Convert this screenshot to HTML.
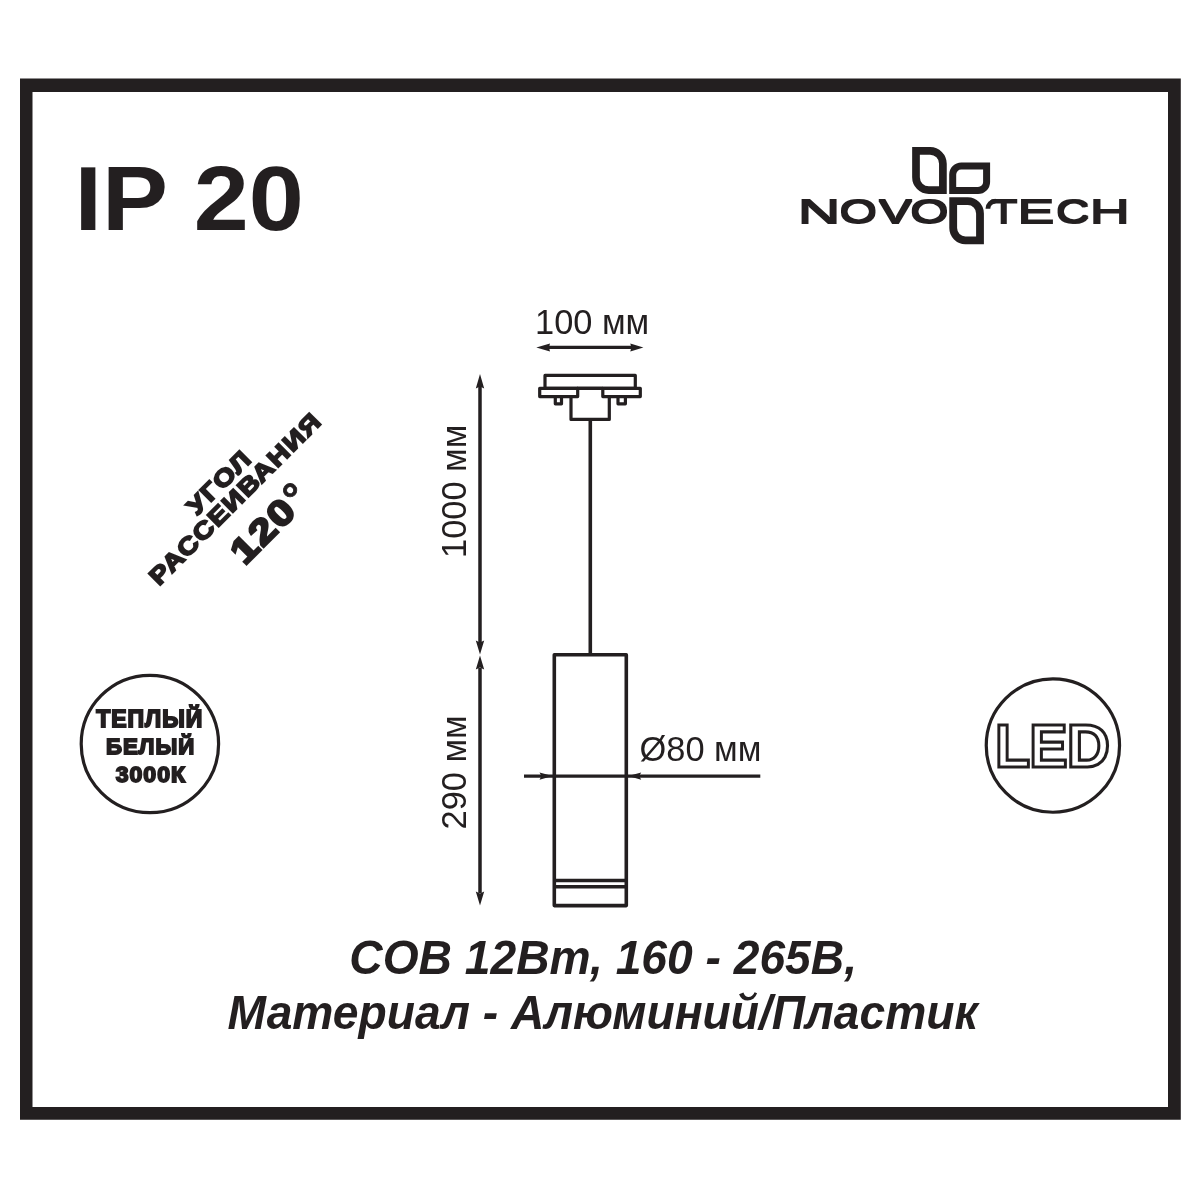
<!DOCTYPE html>
<html lang="ru">
<head>
<meta charset="utf-8">
<title>NOVOTECH IP 20</title>
<style>
html,body{margin:0;padding:0;background:#fff;}
body{width:1200px;height:1200px;overflow:hidden;}
svg{display:block;will-change:transform;}
text{font-family:"Liberation Sans",sans-serif;fill:#231f20;}
.b{font-weight:bold;}
.bi{font-weight:bold;font-style:italic;}
.ln{stroke:#231f20;fill:none;}
.fl{fill:#231f20;stroke:none;}
</style>
</head>
<body>
<svg width="1200" height="1200" viewBox="0 0 1200 1200">
<!-- frame -->
<path class="fl" fill-rule="evenodd" d="M20 78.5H1180.8V1119.8H20Z M32.5 92V1107H1168V92Z"/>

<!-- IP 20 -->
<text id="ip" class="b" font-size="91" transform="translate(74.5 229.5) scale(1.088 1)">IP 20</text>

<!-- dimension 100 mm -->
<text id="t100" x="535" y="333.5" font-size="34.4">100 мм</text>
<g id="a100">
<line class="ln" x1="545" y1="347.45" x2="635" y2="347.45" stroke-width="3.3"/>
<path class="fl" d="M536.3 347.45L550 343.4L549 347.45L550 351.5Z"/>
<path class="fl" d="M643.4 347.45L630.3 343.4L631.3 347.45L630.3 351.5Z"/>
</g>

<!-- mount -->
<g id="mount" class="ln" stroke-width="3.2" stroke-linejoin="round">
<rect x="545" y="375.4" width="90.3" height="12.9"/>
<rect x="539.7" y="388.3" width="38" height="8.3"/>
<rect x="602.8" y="388.3" width="37.5" height="8.3"/>
<line x1="577" y1="388.3" x2="603" y2="388.3"/>
<path d="M571 396.6V419.4H609.3V396.6"/>
<path d="M555.3 398V403.8H561.5V398"/>
<path d="M618 398V403.8H625.4V398"/>
</g>
<!-- wire -->
<line class="ln" x1="590.3" y1="420" x2="590.3" y2="654" stroke-width="3.6"/>
<!-- lamp body -->
<g id="lamp" class="ln" stroke-width="3.6" stroke-linejoin="round">
<rect x="554.3" y="654.8" width="72" height="250.8"/>
<line x1="554.3" y1="880.5" x2="626.3" y2="880.5" stroke-width="3.4"/>
<line x1="554.3" y1="886.8" x2="626.3" y2="886.8" stroke-width="3.4"/>
</g>

<!-- vertical dims -->
<g id="vd">
<line class="ln" x1="480" y1="386" x2="480" y2="643" stroke-width="3.5"/>
<path class="fl" d="M480 374L484.2 388.5L480 386.5L475.8 388.5Z"/>
<path class="fl" d="M480 654.5L484.2 640.5L480 642.5L475.8 640.5Z"/>
<line class="ln" x1="480" y1="668" x2="480" y2="893" stroke-width="3.5"/>
<path class="fl" d="M480 655.5L484.2 669.5L480 667.5L475.8 669.5Z"/>
<path class="fl" d="M480 905.5L484.2 891.5L480 893.5L475.8 891.5Z"/>
</g>
<text id="t1000" font-size="34.4" transform="translate(466.2 558) rotate(-90)">1000 мм</text>
<text id="t290" font-size="34.4" transform="translate(466.2 829.5) rotate(-90)">290 мм</text>

<!-- diameter dim -->
<g id="dd">
<line class="ln" x1="524" y1="776.1" x2="760.3" y2="776.1" stroke-width="3.4"/>
<path class="fl" d="M552.5 776.1L539.5 772.4L541.5 776.1L539.5 779.8Z"/>
<path class="fl" d="M628.2 776.1L641.2 772.4L639.2 776.1L641.2 779.8Z"/>
</g>
<text id="t80" x="639.5" y="761" font-size="34.4">Ø80 мм</text>

<!-- bottom text -->
<text id="l1" class="bi" x="349.3" y="973.5" font-size="47.5" textLength="507.7" lengthAdjust="spacingAndGlyphs">СОВ 12Вт, 160 - 265В,</text>
<text id="l2" class="bi" x="227.6" y="1029" font-size="47.5" textLength="750.3" lengthAdjust="spacingAndGlyphs">Материал - Алюминий/Пластик</text>

<!-- warm white badge -->
<circle class="ln" cx="149.9" cy="744" r="68.7" stroke-width="3.2"/>
<g id="ww" class="b" text-anchor="middle" font-size="23" stroke="#231f20" stroke-width="1.8" stroke-linejoin="miter" letter-spacing="1">
<text transform="translate(149.75 726.5) scale(1.0 1)">ТЕПЛЫЙ</text>
<text transform="translate(150.6 753.7) scale(0.97 1)">БЕЛЫЙ</text>
<text transform="translate(150.9 782.2) scale(1.005 1)">3000К</text>
</g>

<!-- LED badge -->
<circle class="ln" cx="1052.9" cy="745.6" r="66.65" stroke-width="3.2"/>
<text id="led" class="b" y="766.9" font-size="61.6" style="fill:#fff;stroke:#231f20;stroke-width:3.2;stroke-linejoin:miter"><tspan x="995.00" textLength="35.17" lengthAdjust="spacingAndGlyphs">L</tspan><tspan x="1029.25" textLength="38.40" lengthAdjust="spacingAndGlyphs">E</tspan><tspan x="1066.84" textLength="43.33" lengthAdjust="spacingAndGlyphs">D</tspan></text>

<!-- angle text -->
<g id="ang" class="b" transform="translate(240.7 504.8) rotate(-45)" text-anchor="middle" stroke="#231f20" stroke-linejoin="miter">
<text transform="translate(0.6 -22.9) scale(1.178 1)" font-size="24" stroke-width="1.8" letter-spacing="1.2">УГОЛ</text>
<text transform="translate(0.6 0) scale(1.178 1)" font-size="24" stroke-width="1.8" letter-spacing="1.2">РАССЕИВАНИЯ</text>
<text transform="translate(-40.5 46.2) scale(1.2 1)" text-anchor="start" font-size="35.5" stroke-width="2.4" letter-spacing="1.5">120</text><text x="45.2" y="48" font-size="43" stroke-width="0.8">°</text>
</g>

<!-- logo -->
<defs>
<filter id="fat" x="-5%" y="-30%" width="110%" height="160%" color-interpolation-filters="sRGB">
<feMorphology operator="dilate" radius="0.5 1.25"/>
</filter>
</defs>
<g id="logo">
<g id="mark" class="ln" stroke-linejoin="miter">
<path d="M916 150.9H930.1A12.8 12.8 0 0 1 942.9 163.7V190.1H928.8A12.8 12.8 0 0 1 916 177.3Z" stroke-width="7.7"/>
<path d="M961.3 166H986.6V182.0A8.6 8.6 0 0 1 978.0 190.6H952.7V174.6A8.6 8.6 0 0 1 961.3 166Z" stroke-width="7"/>
<path d="M953.2 201.2H967.8A12.2 12.2 0 0 1 980 213.4V240.3H965.4A12.2 12.2 0 0 1 953.2 228.1Z" stroke-width="7.8"/>
</g>
<g filter="url(#fat)">
<text id="novo" y="222.5" font-size="33"><tspan x="797.65" textLength="42.66" lengthAdjust="spacingAndGlyphs">N</tspan><tspan x="839.74" textLength="37.03" lengthAdjust="spacingAndGlyphs">O</tspan><tspan x="879.29" textLength="32.43" lengthAdjust="spacingAndGlyphs">V</tspan><tspan x="910.50" textLength="37.83" lengthAdjust="spacingAndGlyphs">O</tspan></text>
<text id="tech" y="222.5" font-size="33"><tspan x="990.26" textLength="27.01" lengthAdjust="spacingAndGlyphs">T</tspan><tspan x="1017.57" textLength="36.80" lengthAdjust="spacingAndGlyphs">E</tspan><tspan x="1056.17" textLength="33.07" lengthAdjust="spacingAndGlyphs">C</tspan><tspan x="1089.65" textLength="40.08" lengthAdjust="spacingAndGlyphs">H</tspan></text>
</g>
<path d="M984 196.5H995.5V198.7A10 10 0 0 0 985.5 208.7H984Z" fill="#fff"/>
<path class="ln" d="M995.5 201.1A7.6 7.6 0 0 0 987.9 208.7" stroke-width="4.8"/>
</g>
</svg>
</body>
</html>
